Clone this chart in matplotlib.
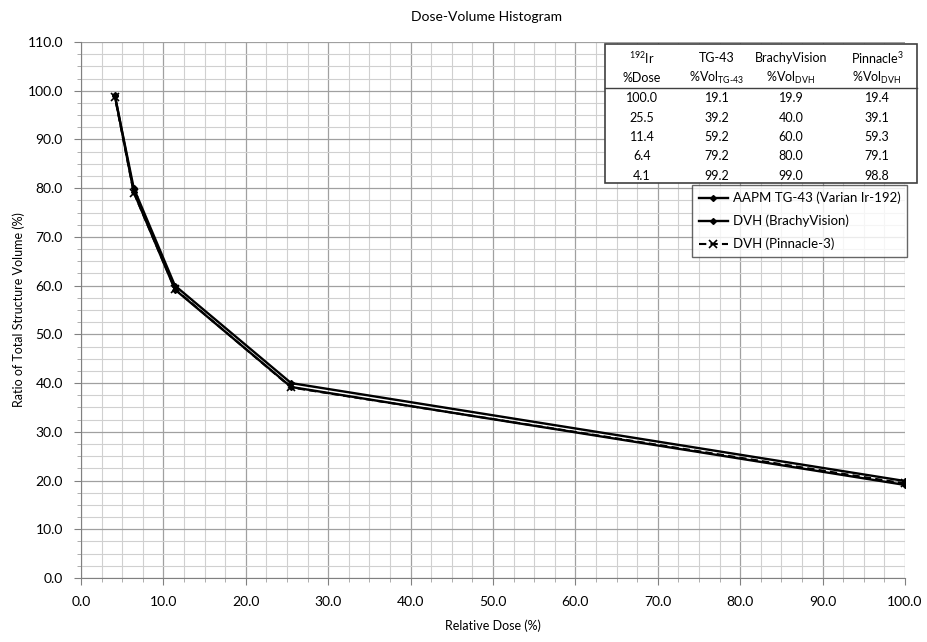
import matplotlib.pyplot as plt
from matplotlib.patches import Rectangle
from matplotlib.ticker import MultipleLocator

plt.rcParams['font.family'] = ['Lato', 'DejaVu Sans']
plt.rcParams['mathtext.default'] = 'regular'

dose = [100.0, 25.5, 11.4, 6.4, 4.1]
vol_tg43 = [19.1, 39.2, 59.2, 79.2, 99.2]
vol_brachy = [19.9, 40.0, 60.0, 80.0, 99.0]
vol_pinnacle = [19.4, 39.1, 59.3, 79.1, 98.8]

labels = ['AAPM TG-43 (Varian Ir-192)', 'DVH (BrachyVision)', 'DVH (Pinnacle-3)']
head1 = [r'$^{192}$Ir', 'TG-43', 'BrachyVision', r'Pinnacle$^{3}$']
head2 = ['%Dose', '%Vol$_{TG\u201043}$', '%Vol$_{DVH}$', '%Vol$_{DVH}$']


def main():
    fig = plt.figure(figsize=(9.27, 6.42), dpi=100)
    ax = fig.add_axes([81 / 927, 64 / 642, 824 / 927, 536 / 642])

    ax.plot(dose, vol_tg43, color='black', lw=1.7, marker='D', ms=3, label=labels[0])
    ax.plot(dose, vol_brachy, color='black', lw=1.7, marker='D', ms=3, label=labels[1])
    ax.plot(dose, vol_pinnacle, color='black', lw=1.5, ls=(0, (3.5, 2)), marker='x', ms=6,
            mew=1.2, label=labels[2])

    ax.set_xlim(0, 100)
    ax.set_ylim(0, 110)
    ax.xaxis.set_major_locator(MultipleLocator(10))
    ax.yaxis.set_major_locator(MultipleLocator(10))
    ax.xaxis.set_minor_locator(MultipleLocator(2.5))
    ax.yaxis.set_minor_locator(MultipleLocator(2.5))
    ax.xaxis.set_major_formatter(lambda v, p: f'{v:.1f}')
    ax.yaxis.set_major_formatter(lambda v, p: f'{v:.1f}')
    ax.grid(which='major', color='#a0a0a0', lw=0.9)
    ax.grid(which='minor', color='#d0d0d0', lw=0.8)
    ax.set_axisbelow(True)
    ax.tick_params(which='major', length=5, color='#808080', labelsize=10, pad=8)
    ax.tick_params(which='minor', length=3, color='#a0a0a0')
    for side in ['top', 'right']:
        ax.spines[side].set_visible(False)
    for side in ['left', 'bottom']:
        ax.spines[side].set_color('#808080')

    ax.set_xlabel('Relative Dose (%)', fontsize=9, labelpad=8)
    ax.set_ylabel('Ratio of Total Structure Volume (%)', fontsize=9, labelpad=2)
    fig.text(0.525, 0.973, 'Dose-Volume Histogram', ha='center', va='center', fontsize=10)

    # summary table in the upper right
    tx = lambda px: (px - 81) / 824
    ty = lambda py: (578 - py) / 536
    ax.add_patch(Rectangle((tx(605), ty(183)), tx(917) - tx(605), ty(44) - ty(183),
                           transform=ax.transAxes, fc='white', ec='#404040', lw=1.2,
                           clip_on=False, zorder=5))
    ax.plot([tx(605), tx(917)], [ty(88), ty(88)], transform=ax.transAxes, color='#404040',
            lw=1.0, clip_on=False, zorder=6)
    col_x = [642, 717, 791, 877]
    tkw = dict(transform=ax.transAxes, ha='center', va='center', fontsize=9, zorder=7)
    for i, cx in enumerate(col_x):
        ax.text(tx(cx), ty(58), head1[i], **tkw)
        ax.text(tx(cx), ty(78), head2[i], **tkw)
    for r in range(len(dose)):
        row = [dose[r], vol_tg43[r], vol_brachy[r], vol_pinnacle[r]]
        for i, cx in enumerate(col_x):
            ax.text(tx(cx), ty(98 + r * 19.5), f'{row[i]:.1f}', **tkw)

    leg = ax.legend(loc='upper left', bbox_to_anchor=(tx(692), ty(185)), fontsize=9.5,
                    frameon=True, fancybox=False, edgecolor='#404040', handlelength=2.2,
                    handletextpad=0.4, borderpad=0.5, labelspacing=0.8, borderaxespad=0)
    leg.get_frame().set_linewidth(1.0)
    leg.set_zorder(8)

    fig.savefig('out.png', dpi=100)


if __name__ == "__main__":
    main()
